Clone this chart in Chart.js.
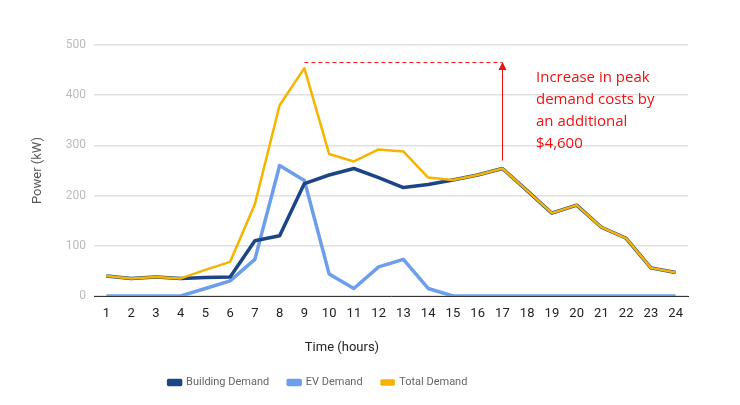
<!DOCTYPE html>
<html>
<head>
<meta charset="utf-8">
<script src="https://cdn.jsdelivr.net/npm/chart.js"></script>
<style>
  html, body { margin: 0; padding: 0; background: #fff; }
  #wrap { width: 740px; height: 405px; position: relative; }
</style>
</head>
<body>
<div id="wrap"><canvas id="chart"></canvas></div>
<script>
// ===== Data =====
const hours = ['1','2','3','4','5','6','7','8','9','10','11','12','13','14','15','16','17','18','19','20','21','22','23','24'];
const buildingDemand = [40, 35, 38, 35, 37, 38, 110, 120, 224, 241, 254, 236, 216, 222, 231, 241, 254, 210, 165, 181, 137, 115, 56, 47];
const evDemand       = [0, 0, 0, 0, 15, 30, 73, 260, 230, 44, 15, 58, 73, 15, 0, 0, 0, 0, 0, 0, 0, 0, 0, 0];
const totalDemand    = [40, 35, 38, 35, 52, 68, 183, 380, 454, 283, 268, 292, 288, 236, 231, 241, 254, 210, 165, 181, 137, 115, 56, 47];
const yTicks = [0, 100, 200, 300, 400, 500];

// annotation: new peak vs old peak
const peakLineValue = 466;
const peakFromIdx = 8;   // hour 9
const peakToIdx = 16;    // hour 17
const arrowFromValue = 270;
const noteLines = ['Increase in peak', 'demand costs by', 'an additional', '$4,600'];

const COLORS = {
  building: '#1c4587',
  ev: '#6d9eeb',
  total: '#f5b400',
  note: '#ee1111'
};

// ===== Plugins =====
const annotate = {
  id: 'annotate',
  afterLayout(chart){
    // legend sits left of centre in the original
    const lg = chart.legend;
    if (lg) { lg.left = 0; lg.right = 636; }
  },
  afterDatasetsDraw(chart){
    const { ctx, scales: { x, y } } = chart;
    const yPeak = y.getPixelForValue(peakLineValue);
    const x1 = x.getPixelForValue(peakFromIdx);
    const x2 = x.getPixelForValue(peakToIdx);
    ctx.save();
    ctx.strokeStyle = COLORS.note;
    ctx.fillStyle = COLORS.note;
    ctx.lineWidth = 1;
    ctx.setLineDash([4, 3]);
    ctx.beginPath();
    ctx.moveTo(x1, yPeak + 0.5);
    ctx.lineTo(x2, yPeak + 0.5);
    ctx.stroke();
    ctx.setLineDash([]);
    const ax = Math.round(x2) + 0.5;
    ctx.beginPath();
    ctx.moveTo(ax, y.getPixelForValue(arrowFromValue));
    ctx.lineTo(ax, yPeak + 6);
    ctx.stroke();
    ctx.beginPath();
    ctx.moveTo(ax, yPeak);
    ctx.lineTo(ax - 4, yPeak + 8);
    ctx.lineTo(ax + 4, yPeak + 8);
    ctx.closePath();
    ctx.fill();

    ctx.font = '15px "Open Sans", sans-serif';
    ctx.textAlign = 'left';
    ctx.textBaseline = 'middle';
    noteLines.forEach((t, i) => ctx.fillText(t, 536, 78 + i * 22));

    // x axis title
    ctx.fillStyle = '#222';
    ctx.font = '13px Roboto, sans-serif';
    ctx.textAlign = 'center';
    ctx.fillText('Time (hours)', 342, 348);
    ctx.restore();
  }
};

// ===== Chart =====
new Chart(document.getElementById('chart'), {
  type: 'line',
  data: {
    labels: hours,
    datasets: [
      { label: 'Building Demand', data: buildingDemand, borderColor: COLORS.building, backgroundColor: COLORS.building, borderWidth: 3.5, order: 1 },
      { label: 'EV Demand', data: evDemand, borderColor: COLORS.ev, backgroundColor: COLORS.ev, borderWidth: 3.5, order: 2 },
      { label: 'Total Demand', data: totalDemand, borderColor: COLORS.total, backgroundColor: COLORS.total, borderWidth: 2.5, order: 0 }
    ]
  },
  options: {
    responsive: true,
    maintainAspectRatio: false,
    animation: false,
    layout: { padding: { left: 0, right: 52, top: 45, bottom: 7 } },
    elements: {
      line: { tension: 0, borderJoinStyle: 'round' },
      point: { radius: 0, hoverRadius: 0 }
    },
    plugins: {
      tooltip: { enabled: false },
      legend: {
        position: 'bottom',
        labels: {
          boxWidth: 12,
          boxHeight: 4,
          padding: 19,
          color: '#666',
          font: { family: 'Roboto', size: 11 },
          sort: (a, b) => a.datasetIndex - b.datasetIndex
        }
      }
    },
    scales: {
      x: {
        offset: true,
        grid: { display: false, drawTicks: false },
        border: { color: '#333', width: 1 },
        ticks: { color: '#222', padding: 10, maxRotation: 0, autoSkip: false, font: { family: 'Roboto', size: 13 } },
        afterFit: (s) => { s.height = 62; }
      },
      y: {
        min: 0,
        max: 500,
        afterBuildTicks: (s) => { s.ticks = yTicks.map(v => ({ value: v })); },
        grid: { color: '#e0e0e0', lineWidth: 1.5, drawTicks: false },
        border: { display: false },
        ticks: { color: '#bbb', padding: 8, font: { family: 'Roboto', size: 12 } },
        title: { display: true, text: 'Power (kW)', color: '#555', padding: { top: 30 }, font: { family: 'Roboto', size: 13 } },
        afterFit: (s) => { s.width = 94; }
      }
    }
  },
  plugins: [annotate]
});
</script>
</body>
</html>
